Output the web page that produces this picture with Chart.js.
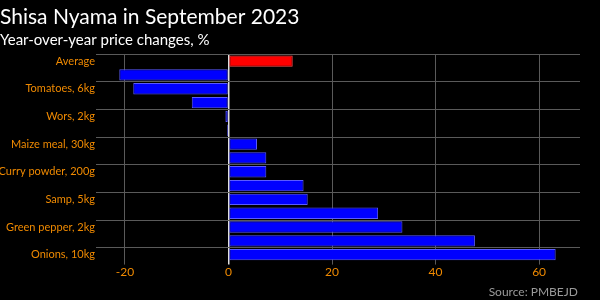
<!DOCTYPE html>
<html>
<head>
<meta charset="utf-8">
<script src="https://cdn.jsdelivr.net/npm/chart.js@4/dist/chart.umd.min.js"></script>
<style>
  html, body { margin: 0; padding: 0; background: #000; }
  #wrap { position: relative; width: 600px; height: 300px; }
  #source {
    position: absolute; right: 22px; bottom: 1px;
    font: 12px Lato, sans-serif; color: #9a9a9a;
  }
</style>
</head>
<body>
<div id="wrap">
  <canvas id="chart" width="600" height="300"></canvas>
  <div id="source">Source: PMBEJD</div>
</div>
<script>
  // Values (% change, Sep 2022 -> Sep 2023)
  const categories = [
    "Average", "Potatoes, 10kg", "Tomatoes, 6kg", "Cabbage, 1 head", "Wors, 2kg",
    "Chicken, 2kg", "Maize meal, 30kg", "Beef, 1kg", "Curry powder, 200g",
    "Rice, 10kg", "Samp, 5kg", "Carrots, 1kg", "Green pepper, 2kg",
    "Spinach, 1 bunch", "Onions, 10kg"
  ];
  const changes = [12.4, -21.1, -18.4, -7.1, -0.6, -0.3, 5.5, 7.3, 7.3, 14.5, 15.3, 28.9, 33.6, 47.6, 63.2];
  const xTicks = [-20, 0, 20, 40, 60];

  const orange = "#f08a00";
  const fontFamily = "Lato, sans-serif";

  new Chart(document.getElementById("chart"), {
    type: "bar",
    data: {
      labels: categories,
      datasets: [{
        data: changes,
        backgroundColor: categories.map((c) => (c === "Average" ? "#ff0000" : "#0000ff")),
        borderColor: categories.map((c) => (c === "Average" ? "#ff5050" : "#5a5aff")),
        borderWidth: 1,
        borderSkipped: false,
        barPercentage: 0.82,
        categoryPercentage: 1,
      }],
    },
    options: {
      indexAxis: "y",
      responsive: false,
      animation: false,
      layout: { padding: { left: 0, right: 20, top: 0, bottom: 21 } },
      plugins: {
        legend: { display: false },
        tooltip: { enabled: false },
        title: {
          display: true,
          text: "Shisa Nyama in September 2023",
          align: "start",
          color: "#fff",
          font: { family: fontFamily, size: 21, weight: "normal" },
          padding: { top: 5, bottom: 1 },
        },
        subtitle: {
          display: true,
          text: "Year-over-year price changes, %",
          align: "start",
          color: "#fff",
          font: { family: fontFamily, size: 15, weight: "normal" },
          padding: { top: 0, bottom: 5 },
        },
      },
      scales: {
        x: {
          min: -25.6,
          max: 67.9,
          afterBuildTicks: (axis) => { axis.ticks = xTicks.map((v) => ({ value: v })); },
          grid: {
            color: (ctx) => (ctx.tick && ctx.tick.value === 0 ? "#e0e0e0" : "#5a5a5a"),
            lineWidth: (ctx) => (ctx.tick && ctx.tick.value === 0 ? 1.5 : 1),
            tickLength: 3,
          },
          border: { display: false },
          ticks: { color: orange, font: { family: fontFamily, size: 12 }, padding: 0 },
        },
        y: {
          afterFit: (axis) => { axis.width = 96; },
          grid: {
            color: (ctx) => (ctx.index % 2 === 0 ? "#5a5a5a" : "rgba(0,0,0,0)"),
            drawTicks: false,
          },
          border: { display: false },
          ticks: {
            autoSkip: false,
            color: orange,
            font: { family: fontFamily, size: 11 },
            padding: 1,
            callback: function (value, index) {
              return index % 2 === 0 ? this.getLabelForValue(value) : "";
            },
          },
        },
      },
    },
  });
</script>
</body>
</html>
